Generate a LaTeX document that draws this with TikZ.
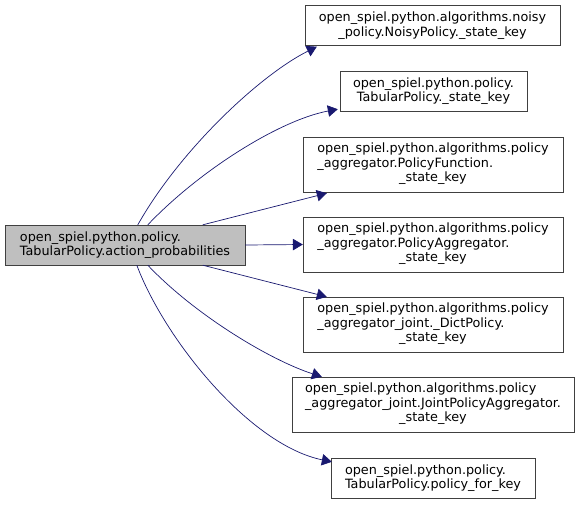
\documentclass[tikz,border=0pt]{standalone}
\usepackage{fontspec}
\setmainfont{DejaVu Sans}
\usetikzlibrary{arrows.meta}
\definecolor{edgeblue}{HTML}{191970}
\definecolor{srcgray}{HTML}{BFBFBF}
\definecolor{boxline}{HTML}{404040}
\newcommand{\keyof}[2]{\begin{tabular}{@{}l@{}}#1\\#2\\\multicolumn{1}{@{}c@{}}{\_state\_key}\end{tabular}}
\tikzset{
  fbox/.style={draw=boxline,fill=white,inner sep=0pt,font=\fontsize{12.8}{14.5}\selectfont},
  srcbox/.style={fbox,fill=srcgray,align=left},
  call/.style={-{Triangle[scale=2.2]},color=edgeblue,line width=0.7pt},
}
\begin{document}
\begin{tikzpicture}[x=1pt,y=1pt]
\useasboundingbox (0,0) rectangle (580,-504);
\node[srcbox,minimum width=240pt,minimum height=40pt] (src) at (125,-245)
  {open\_spiel.python.policy.\\TabularPolicy.action\_probabilities};
\node[fbox,align=center,minimum width=255pt,minimum height=40pt] (noisy) at (432.5,-25.5)
  {open\_spiel.python.algorithms.noisy\\\_policy.NoisyPolicy.\_state\_key};
\node[fbox,align=center,minimum width=187pt,minimum height=40pt] (tabkey) at (433.5,-91)
  {open\_spiel.python.policy.\\TabularPolicy.\_state\_key};
\node[fbox,minimum width=260pt,minimum height=55pt] (polfunc) at (433,-164.5)
  {\keyof{open\_spiel.python.algorithms.policy}{\_aggregator.PolicyFunction.}};
\node[fbox,minimum width=260pt,minimum height=55pt] (polagg) at (433,-244.5)
  {\keyof{open\_spiel.python.algorithms.policy}{\_aggregator.PolicyAggregator.}};
\node[fbox,minimum width=260pt,minimum height=55pt] (dictpol) at (433,-324.5)
  {\keyof{open\_spiel.python.algorithms.policy}{\_aggregator\_joint.\_DictPolicy.}};
\node[fbox,minimum width=282pt,minimum height=55pt] (jointagg) at (433,-404.5)
  {\keyof{open\_spiel.python.algorithms.policy}{\_aggregator\_joint.JointPolicyAggregator.}};
\node[fbox,align=left,minimum width=204pt,minimum height=40pt] (polkey) at (433,-478)
  {open\_spiel.python.policy.\\TabularPolicy.policy\_for\_key};
% calls from action_probabilities
\draw[call] ([xshift=133pt]src.north west) .. controls (180,-150) and (260,-75) .. ([xshift=12pt,yshift=-1pt]noisy.south west);
\draw[call] ([xshift=143pt]src.north west) .. controls (200,-170) and (280,-120) .. ([xshift=-2pt,yshift=2pt]tabkey.south west);
\draw[call] ([xshift=198pt]src.north west) -- ([xshift=24pt,yshift=-1pt]polfunc.south west);
\draw[call] (src.east) -- (polagg.west);
\draw[call] ([xshift=198pt]src.south west) -- ([xshift=24pt]dictpol.north west);
\draw[call] ([xshift=143pt]src.south west) .. controls (195,-315) and (270,-360) .. ([xshift=30pt]jointagg.north west);
\draw[call] ([xshift=132pt]src.south west) .. controls (165,-340) and (250,-445) .. ([xshift=1pt,yshift=-4pt]polkey.north west);
\end{tikzpicture}
\end{document}
